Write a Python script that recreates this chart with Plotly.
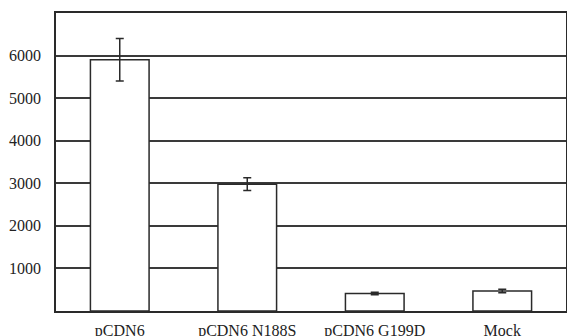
import plotly.graph_objects as go

# Reporter activity per construct (mean and error)
constructs = ["pCDN6", "pCDN6 N188S", "pCDN6 G199D", "Mock"]
activity = [5900, 2980, 410, 470]
activity_err = [500, 150, 30, 40]

y_ticks = [1000, 2000, 3000, 4000, 5000, 6000]

line_col = "#2a2a2a"
font = dict(family="Liberation Serif", size=16, color="#222222")

fig = go.Figure(
    go.Bar(
        x=constructs,
        y=activity,
        marker=dict(color="white", line=dict(color=line_col, width=1.5)),
        error_y=dict(type="data", array=activity_err, color=line_col, thickness=1.5, width=4),
        width=0.46,
    )
)

fig.update_layout(
    width=567,
    height=336,
    margin=dict(l=56, r=1, t=13, b=25, autoexpand=False),
    paper_bgcolor="white",
    plot_bgcolor="white",
    font=font,
    showlegend=False,
)

fig.update_xaxes(
    showline=True, mirror=True, linecolor=line_col, linewidth=1.5,
    showgrid=False, ticks="", ticklabelstandoff=4, automargin=False,
)
fig.update_yaxes(
    range=[0, 7000], tickvals=y_ticks, ticktext=[str(v) for v in y_ticks],
    showline=True, mirror=True, linecolor=line_col, linewidth=1.5,
    showgrid=True, gridcolor="#3a3a3a", gridwidth=1.5,
    zeroline=False, ticks="", ticklabelstandoff=10, automargin=False,
)

fig.write_html("out.html")
